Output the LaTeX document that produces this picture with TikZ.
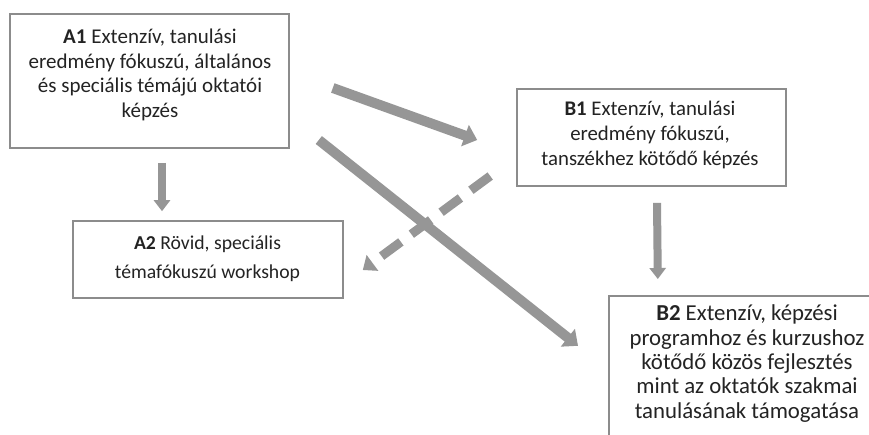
\documentclass[tikz,border=0pt]{standalone}
\usepackage{fontspec}
\setmainfont{Carlito}
\usetikzlibrary{arrows.meta}
\definecolor{arrgray}{RGB}{150,150,150}
\definecolor{boxgray}{RGB}{140,140,140}
\definecolor{txtgray}{RGB}{35,35,35}
\tikzset{
  box/.style={draw=boxgray, line width=1.6pt, fill=white, inner sep=0pt},
  txt/.style={text=txtgray, align=center, inner sep=0pt},
  bigarr/.style={draw=arrgray, line width=10pt, -{Triangle[width=22pt,length=13pt]}},
  smallarr/.style={draw=arrgray, line width=8pt, -{Triangle[width=16pt,length=11pt]}},
  dasharr/.style={draw=arrgray, line width=9pt, dash pattern=on 24pt off 13pt, -{Triangle[width=19pt,length=12pt]}}
}
\begin{document}
\begin{tikzpicture}[x=1pt,y=-1pt]
\useasboundingbox (0,0) rectangle (869,434);
\clip (0,0) rectangle (869,434);
\fill[white] (0,0) rectangle (869,434);
% boxes
\node[box, minimum width=279pt, minimum height=134pt] (A1) at (149.5,81) {};
\node[box, minimum width=269pt, minimum height=97pt] (B1) at (651.5,137.5) {};
\node[box, minimum width=270pt, minimum height=77pt] (A2) at (208,259.5) {};
\node[box, minimum width=278pt, minimum height=170pt, anchor=north west] (B2) at (608,295) {};
% texts
\node[txt, font=\fontsize{21}{24.7}\selectfont] (A1t) at (150,75)
  {\textbf{A1} Extenzív, tanulási\\eredmény fókuszú, általános\\és speciális témájú oktatói\\képzés};
\node[txt, font=\fontsize{20.8}{25}\selectfont] (B1t) at (650,135)
  {\textbf{B1} Extenzív, tanulási\\eredmény fókuszú,\\tanszékhez kötődő képzés};
\node[txt, font=\fontsize{19.7}{28.5}\selectfont] (A2t) at (207.5,258.5)
  {\textbf{A2} Rövid, speciális\\témafókuszú workshop};
\node[txt, font=\fontsize{22.8}{24.3}\selectfont] (B2t) at (747,363.5)
  {\textbf{B2} Extenzív, képzési\\programhoz és kurzushoz\\kötődő közös fejlesztés\\mint az oktatók szakmai\\tanulásának támogatása};
% connectors
\draw[smallarr] ([xshift=12.5pt,yshift=-14pt]A1.south) -- ([xshift=-46pt,yshift=9pt]A2.north);
\draw[smallarr] ([xshift=5.5pt,yshift=-16pt]B1.south) -- ([xshift=-90pt,yshift=16pt]B2.north);
\draw[bigarr] ([xshift=43pt,yshift=-7pt]A1.east) -- ([xshift=-39pt,yshift=-2.5pt]B1.west);
\draw[bigarr] ([xshift=29pt,yshift=-59pt]A1.east) -- ([xshift=-30pt,yshift=35pt]B2.west);
\draw[dasharr] ([xshift=-26pt,yshift=-38.5pt]B1.west) -- ([xshift=19pt,yshift=-10.5pt]A2.east);
\end{tikzpicture}
\end{document}
